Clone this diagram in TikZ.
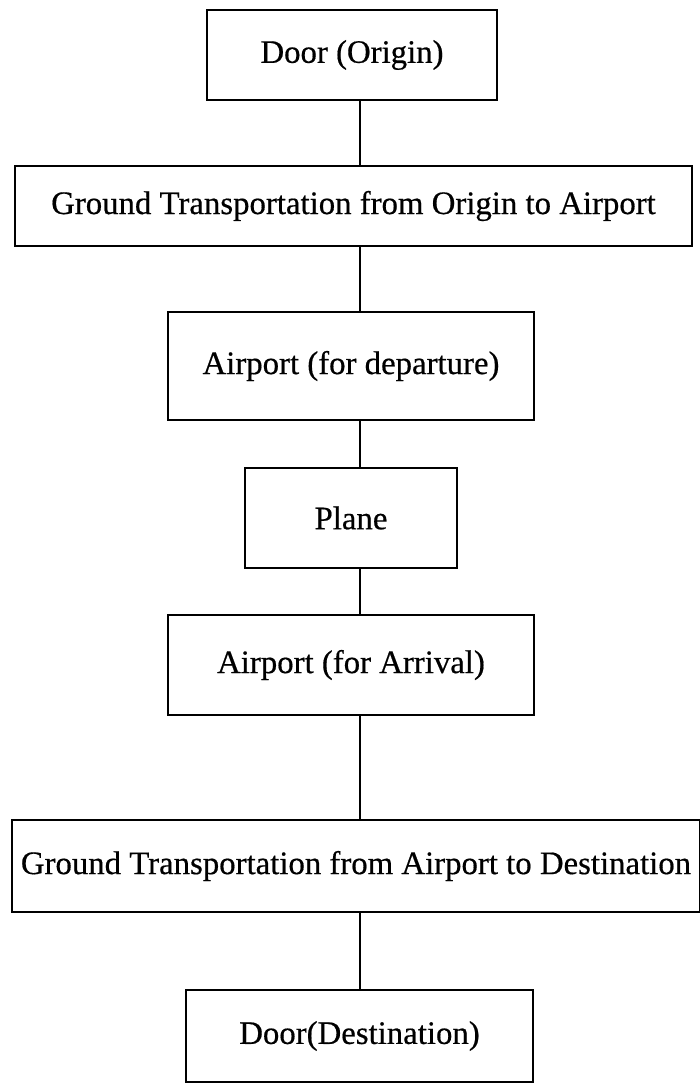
\documentclass[tikz,border=0pt]{standalone}
\usepackage{fontspec}
\setmainfont{Liberation Serif}[FakeBold=0.5]
\begin{document}
\begin{tikzpicture}[x=1pt,y=-1pt,
  box/.style={draw=black, line width=1.8pt, rectangle, inner sep=0pt,
              font=\fontsize{32.8}{39}\selectfont},
  link/.style={draw=black, line width=1.8pt}]
\useasboundingbox (0,0) rectangle (699,1083);
\fill[white] (0,0) rectangle (699,1083);
% vertical axis carrying all the connectors
\coordinate (axis) at (360,0);

\node[box, minimum width=290pt, minimum height=90pt]  (b1) at (352,55)    {Door (Origin)};
\node[box, minimum width=677pt, minimum height=80pt]  (b2) at (353.5,206) {Ground Transportation from Origin to Airport};
\node[box, minimum width=366pt, minimum height=108pt] (b3) at (351,366)   {Airport (for departure)};
\node[box, minimum width=212pt, minimum height=100pt] (b4) at (351,518)   {Plane};
\node[box, minimum width=366pt, minimum height=100pt] (b5) at (351,665)   {Airport (for Arrival)};
\node[box, minimum width=688pt, minimum height=92pt]  (b6) at (356,866)   {Ground Transportation from Airport to Destination};
\node[box, minimum width=347pt, minimum height=92pt]  (b7) at (359.5,1036) {Door(Destination)};

\draw[link] (b1.south -| axis) -- (b2.north -| axis);
\draw[link] (b2.south -| axis) -- (b3.north -| axis);
\draw[link] (b3.south -| axis) -- (b4.north -| axis);
\draw[link] (b4.south -| axis) -- (b5.north -| axis);
\draw[link] (b5.south -| axis) -- (b6.north -| axis);
\draw[link] (b6.south -| axis) -- (b7.north -| axis);
\end{tikzpicture}
\end{document}
